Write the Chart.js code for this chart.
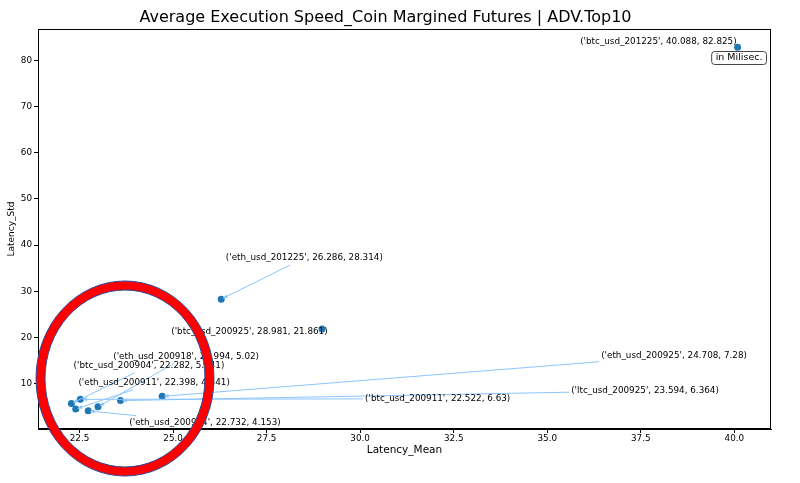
<!DOCTYPE html>
<html>
<head>
<meta charset="utf-8">
<script src="https://cdn.jsdelivr.net/npm/chart.js@4"></script>
<style>
    html, body { margin: 0; padding: 0; background: #fff; }
    #wrap { width: 800px; height: 483px; }
</style>
</head>
<body>
<div id="wrap"><canvas id="latencyChart"></canvas></div>
<script>
// instruments and their mean / std latency
var names = ["btc_usd_201225", "eth_usd_201225", "btc_usd_200925", "eth_usd_200925", "ltc_usd_200925",
    "btc_usd_200911", "eth_usd_200918", "btc_usd_200904", "eth_usd_200911", "eth_usd_200904"];
var latencyMean = [40.088, 26.286, 28.981, 24.708, 23.594, 22.522, 22.994, 22.282, 22.398, 22.732];
var latencyStd = [82.825, 28.314, 21.861, 7.28, 6.364, 6.63, 5.02, 5.741, 4.541, 4.153];

var xTicks = [22.5, 25.0, 27.5, 30.0, 32.5, 35.0, 37.5, 40.0];
var yTicks = [10, 20, 30, 40, 50, 60, 70, 80];

// where each annotation text sits (data units: left edge, middle)
var labelX = [35.88, 26.41, 24.95, 36.44, 35.64, 30.13, 23.40, 22.34, 22.47, 23.83];
var labelY = [84.08, 37.21, 21.23, 16.05, 8.49, 6.76, 15.90, 13.89, 10.22, 1.58];

var FONT = "'DejaVu Sans', sans-serif";

var points = latencyMean.map(function(v, i) {
    return { x: v, y: latencyStd[i] };
});

// annotations with arrows, frame, note box and the red marker ring
var annotatePlugin = {
    id: 'annotate',
    afterDatasetsDraw: function(chart) {
        var ctx = chart.ctx;
        var xs = chart.scales.x, ys = chart.scales.y;
        var area = chart.chartArea;

        ctx.save();
        ctx.strokeStyle = '#000';
        ctx.lineWidth = 1;
        ctx.strokeRect(area.left + 0.5, area.top + 0.5, area.right - area.left - 1, area.bottom - area.top - 1);

        ctx.font = '8.8px ' + FONT;
        ctx.textBaseline = 'middle';
        ctx.textAlign = 'left';
        names.forEach(function(n, i) {
            var txt = "('" + n + "', " + latencyMean[i] + ", " + latencyStd[i] + ")";
            var tx = xs.getPixelForValue(labelX[i]);
            var ty = ys.getPixelForValue(labelY[i]);
            var w = ctx.measureText(txt).width;
            var h = 10;
            var cx = tx + w / 2, cy = ty;
            var px = xs.getPixelForValue(latencyMean[i]);
            var py = ys.getPixelForValue(latencyStd[i]);
            var dx = px - cx, dy = py - cy;
            var hw = w / 2 + 2, hh = h / 2 + 2;
            var t = Math.min(dx !== 0 ? hw / Math.abs(dx) : 1e9, dy !== 0 ? hh / Math.abs(dy) : 1e9);
            var sx = cx + dx * t, sy = cy + dy * t;
            var len = Math.hypot(px - sx, py - sy);
            if (t < 1 && len > 3) {
                var ux = (px - sx) / len, uy = (py - sy) / len;
                var ex = px - ux * 2, ey = py - uy * 2;
                ctx.strokeStyle = '#8cc4ff';
                ctx.fillStyle = '#8cc4ff';
                ctx.lineWidth = 1;
                ctx.beginPath();
                ctx.moveTo(sx, sy);
                ctx.lineTo(ex, ey);
                ctx.stroke();
                ctx.beginPath();
                ctx.moveTo(ex - ux * 4.5 - uy * 2, ey - uy * 4.5 + ux * 2);
                ctx.lineTo(ex, ey);
                ctx.lineTo(ex - ux * 4.5 + uy * 2, ey - uy * 4.5 - ux * 2);
                ctx.closePath();
                ctx.fill();
            }
            ctx.fillStyle = '#000';
            ctx.fillText(txt, tx, ty);
        });

        // note box in the upper right
        ctx.font = '9.5px ' + FONT;
        var note = 'in Milisec.';
        var nw = ctx.measureText(note).width + 8;
        var nx = area.right - 5 - nw, ny = area.top + 22;
        ctx.fillStyle = '#fff';
        ctx.strokeStyle = '#444';
        ctx.beginPath();
        ctx.roundRect(nx + 0.5, ny + 0.5, nw, 13, 3);
        ctx.fill();
        ctx.stroke();
        ctx.fillStyle = '#000';
        ctx.textAlign = 'center';
        ctx.fillText(note, nx + nw / 2 + 0.5, ny + 7);

        // red ring drawn over the chart
        ctx.beginPath();
        ctx.ellipse(125, 378.5, 84.5, 93, 0, 0, Math.PI * 2);
        ctx.strokeStyle = '#ff0000';
        ctx.lineWidth = 9;
        ctx.stroke();
        ctx.strokeStyle = '#2b4a9a';
        ctx.lineWidth = 1;
        ctx.beginPath();
        ctx.ellipse(125, 378.5, 89, 97.5, 0, 0, Math.PI * 2);
        ctx.stroke();
        ctx.beginPath();
        ctx.ellipse(125, 378.5, 80, 88.5, 0, 0, Math.PI * 2);
        ctx.stroke();
        ctx.restore();
    }
};

var ctx = document.getElementById('latencyChart').getContext('2d');
var chart = new Chart(ctx, {
    type: 'scatter',
    data: {
        datasets: [{
            label: 'Latency',
            data: points,
            backgroundColor: '#1f77b4',
            borderWidth: 0,
            pointRadius: 3.5,
            pointHoverRadius: 3.5
        }]
    },
    options: {
        responsive: true,
        maintainAspectRatio: false,
        animation: false,
        layout: {
            padding: { top: 0, right: 29, bottom: 24, left: 0 }
        },
        plugins: {
            legend: { display: false },
            tooltip: { enabled: false },
            title: {
                display: true,
                text: 'Average Execution Speed_Coin Margined Futures | ADV.Top10',
                color: '#000',
                font: { family: FONT, size: 16, weight: 'normal' },
                padding: { top: 8, bottom: 1.8 }
            }
        },
        scales: {
            x: {
                type: 'linear',
                min: 21.39,
                max: 40.98,
                afterBuildTicks: function(s) {
                    s.ticks = xTicks.map(function(v) { return { value: v }; });
                },
                afterFit: function(s) { s.height = 30; },
                grid: { display: true, drawOnChartArea: false, drawTicks: true, tickLength: 4, color: '#000' },
                border: { display: true, color: '#000' },
                ticks: {
                    color: '#000',
                    padding: 0,
                    maxRotation: 0,
                    font: { family: FONT, size: 8.8 },
                    callback: function(v) { return v.toFixed(1); }
                },
                title: {
                    display: true,
                    text: 'Latency_Mean',
                    color: '#000',
                    font: { family: FONT, size: 10.5 },
                    padding: { top: 0, bottom: 2 }
                }
            },
            y: {
                type: 'linear',
                min: 0.22,
                max: 86.76,
                afterBuildTicks: function(s) {
                    s.ticks = yTicks.map(function(v) { return { value: v }; });
                },
                afterFit: function(s) { s.width = 38; },
                grid: { display: true, drawOnChartArea: false, drawTicks: true, tickLength: 4, color: '#000' },
                border: { display: true, color: '#000' },
                ticks: {
                    color: '#000',
                    padding: 2,
                    font: { family: FONT, size: 8.8 },
                    callback: function(v) { return v; }
                },
                title: {
                    display: true,
                    text: 'Latency_Std',
                    color: '#000',
                    font: { family: FONT, size: 9 },
                    padding: { top: 6, bottom: 0 }
                }
            }
        }
    },
    plugins: [annotatePlugin]
});
</script>
</body>
</html>
